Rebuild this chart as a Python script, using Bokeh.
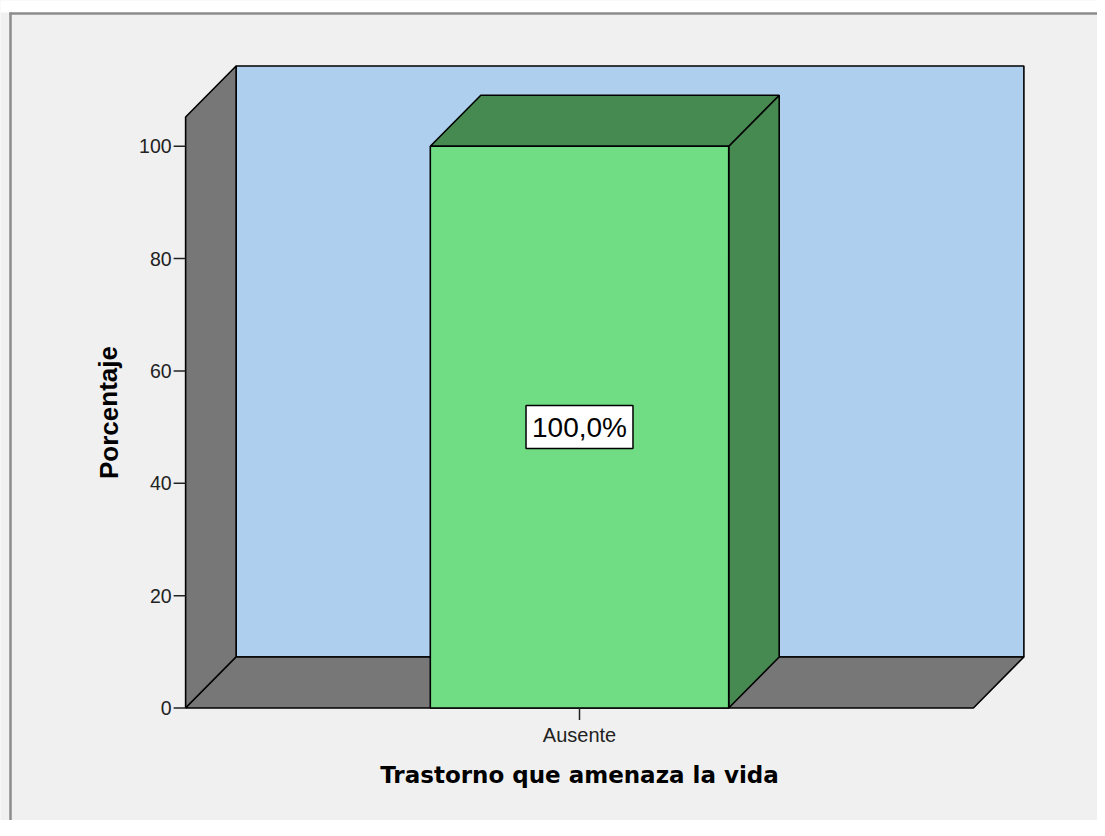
from bokeh.plotting import figure
from bokeh.models import Range1d, Label
from bokeh.core.properties import value
from bokeh.embed import file_html
from bokeh.resources import INLINE

# ---- data ----
categories = ["Ausente"]
percentages = [100.0]
value_labels = ["100,0%"]
y_ticks = [0, 20, 40, 60, 80, 100]
y_tick_labels = ["0", "20", "40", "60", "80", "100"]
x_title = "Trastorno que amenaza la vida"
y_title = "Porcentaje"

# ---- layout constants (pixel scale of the data units) ----
W, H = 1097, 820
PX_X = 298.4      # pixels per category unit
PX_Y = 5.618      # pixels per percent
X0_PIX = 579.0    # canvas x of category 0
Y0_PIX = 707.5    # canvas y of value 0

def xr_(px):
    return (px - X0_PIX) / PX_X

def yr_(py):
    return (Y0_PIX - py) / PX_Y

p = figure(width=W, height=H, output_backend="svg", toolbar_location=None,
           x_range=Range1d(xr_(0), xr_(W)),
           y_range=Range1d(yr_(H), yr_(0)),
           min_border=0, border_fill_color="#f0f0f0",
           background_fill_color="#f0f0f0", outline_line_color=None)
p.axis.visible = False
p.grid.visible = False

dx = 50.5 / PX_X
dy = 51.0 / PX_Y
xl = -1.320
xr = 1.320
wall_top = 105.2
hw = 0.5

edge = dict(line_color="black", line_width=1.6)

# back wall
p.patch([xl + dx, xr + dx, xr + dx, xl + dx], [dy, dy, wall_top + dy, wall_top + dy],
        fill_color="#aed0ee", **edge)
# left wall
p.patch([xl, xl + dx, xl + dx, xl], [0, dy, wall_top + dy, wall_top],
        fill_color="#777777", **edge)
# floor
p.patch([xl, xr, xr + dx, xl + dx], [0, 0, dy, dy], fill_color="#777777", **edge)

# bars
for i, (c, v) in enumerate(zip(categories, percentages)):
    xc = i
    p.patch([xc + hw, xc + hw + dx, xc + hw + dx, xc + hw], [0, dy, v + dy, v],
            fill_color="#468a52", **edge)
    p.patch([xc - hw, xc + hw, xc + hw + dx, xc - hw + dx], [v, v, v + dy, v + dy],
            fill_color="#468a52", **edge)
    p.quad(left=[xc - hw], right=[xc + hw], bottom=[0], top=[v],
           fill_color="#70dd84", **edge)
    lab = Label(x=xc, y=v / 2, text=value_labels[i], text_align="center",
                text_baseline="middle", text_font="Liberation Sans",
                text_font_size="28px", text_color="black",
                background_fill_color="white", border_line_color="black",
                border_line_width=1.5, padding=6)
    p.add_layout(lab)

# y axis ticks + labels
tick_len = 12 / PX_X
p.segment(x0=[xl - tick_len] * len(y_ticks), x1=[xl] * len(y_ticks),
          y0=y_ticks, y1=y_ticks, line_color="#222222", line_width=1.5)
p.text(x=[xl - 14 / PX_X] * len(y_ticks), y=y_ticks, text=y_tick_labels,
       text_align="right", text_baseline="middle",
       text_font=value("Liberation Sans"), text_font_size="19.5px", text_color="#222222")

# x axis tick + label
p.segment(x0=list(range(len(categories))), x1=list(range(len(categories))),
          y0=[0] * len(categories), y1=[-12 / PX_Y] * len(categories),
          line_color="#222222", line_width=1.5)
p.text(x=list(range(len(categories))), y=[yr_(723)] * len(categories), text=categories,
       text_align="center", text_baseline="top",
       text_font=value("Liberation Sans"), text_font_size="20px", text_color="#222222")

# titles
p.text(x=[0], y=[yr_(774)], text=[x_title], text_align="center", text_baseline="middle",
       text_font=value("DejaVu Sans"), text_font_style="bold", text_font_size="23px",
       text_color="black")
p.text(x=[xr_(108)], y=[yr_(412)], text=[y_title], angle=1.5708,
       text_align="center", text_baseline="middle",
       text_font=value("Liberation Sans"), text_font_style="bold", text_font_size="26px",
       text_color="black")

# outer panel frame: white strip on top + border lines
p.quad(left=[xr_(0)], right=[xr_(W)], top=[yr_(0)], bottom=[yr_(12)],
       fill_color="white", line_color=None)
p.segment(x0=[xr_(9)], x1=[xr_(W)], y0=[yr_(13)], y1=[yr_(13)],
          line_color="#8c8c8c", line_width=2.5)
p.segment(x0=[xr_(10)], x1=[xr_(10)], y0=[yr_(12)], y1=[yr_(H)],
          line_color="#8c8c8c", line_width=2.5)

open("out.html", "w").write(file_html(p, INLINE))
